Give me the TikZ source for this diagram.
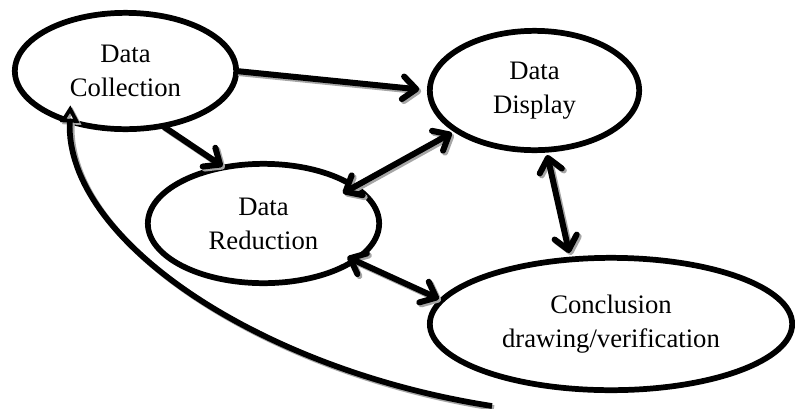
\documentclass[tikz,border=0pt]{standalone}
\usepackage{fontspec}
\setmainfont{Liberation Serif}
\usetikzlibrary{shapes.geometric,arrows.meta}
\tikzset{
  chev/.tip={Straight Barb[length=10pt,width=17pt,round]},
  opentri/.tip={Triangle[open,length=13pt,width=14pt,line width=2.8pt]},
}
\newcommand\shadedpath[2]{%
  \draw[#1,draw=black!35,transform canvas={shift={(2,2)}}] #2;
  \draw[#1] #2;}
\begin{document}
\begin{tikzpicture}[x=0.75pt,y=-0.75pt,
  stage/.style={ellipse,draw,line width=4.3pt,inner sep=0pt,outer sep=0pt,
    align=center,font=\fontsize{20}{25.5}\selectfont},
  flow/.style={line width=4.5pt},
  loopback/.style={line width=4.3pt,-opentri}]
\useasboundingbox (0,0) rectangle (795,408);

\node[stage, minimum width=166pt, minimum height=87.25pt] (dc) at (125.5,71) {Data\\Collection};
\node[stage, minimum width=157pt, minimum height=89.5pt] (dd) at (534.5,90.5) {Data\\Display};
\node[stage, minimum width=173.5pt, minimum height=89.5pt] (dr) at (263.5,223.5) {Data\\Reduction};
\node[stage, minimum width=271.75pt, minimum height=99.25pt] (co) at (611,324) {Conclusion\\drawing/verification};
\coordinate (tail) at (492,406);

\shadedpath{flow,-chev,shorten >=8pt}{(dc.0) -- (dd.180)}
\shadedpath{flow,-chev,shorten >=1.5pt}{(dc.-56) -- (dr.125)}
\shadedpath{flow,chev-chev,shorten <=-10pt,shorten >=4pt}{(dr.22) -- (dd.207)}
\shadedpath{flow,chev-chev,shorten <=4pt,shorten >=5pt}{(dd.-79) -- (co.122)}
\shadedpath{flow,chev-chev,shorten <=-6pt,shorten >=2.5pt}{(dr.-22) -- (co.172)}
\shadedpath{loopback,shorten >=-12pt}{(tail) .. controls (260,370) and (65,240) .. (dc.222)}
\end{tikzpicture}
\end{document}
